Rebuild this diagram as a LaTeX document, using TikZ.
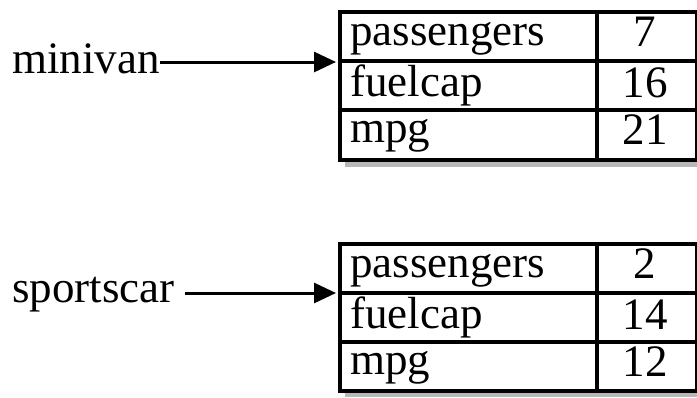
\documentclass[tikz,border=0pt]{standalone}
\usepackage{fontspec}
\setmainfont{Liberation Serif}
\usetikzlibrary{arrows.meta}
\begin{document}
\begin{tikzpicture}[x=1pt,y=-1pt,
  lbl/.style={font=\fontsize{45}{48}\selectfont, inner sep=0pt},
  cell/.style={draw=black, line width=4pt, inner sep=0pt, anchor=north west},
  shadowbox/.style={fill=black!28, draw=none},
  ptr/.style={line width=3pt, -{Triangle[length=22pt,width=20pt]}}]
\useasboundingbox (0,0) rectangle (697,397);
% ---------- top object ----------
\fill[shadowbox] (345,158) rectangle (697,167);
\node[cell, minimum width=257pt, minimum height=49pt] (a1) at (338,10) {};
\node[cell, minimum width=100pt, minimum height=49pt] (a2) at (595,10) {};
\node[cell, minimum width=257pt, minimum height=49pt] (b1) at (338,59) {};
\node[cell, minimum width=100pt, minimum height=49pt] (b2) at (595,59) {};
\node[cell, minimum width=257pt, minimum height=50pt] (c1) at (338,108) {};
\node[cell, minimum width=100pt, minimum height=50pt] (c2) at (595,108) {};
\node[lbl, anchor=base west] (ta1) at (350,45) {passengers};
\node[lbl, anchor=base] (ta2) at (645,46) {7};
\node[lbl, anchor=base west] (tb1) at (350,96) {fuelcap};
\node[lbl, anchor=base] (tb2) at (645,97) {16};
\node[lbl, anchor=base west] (tc1) at (350,142) {mpg};
\node[lbl, anchor=base] (tc2) at (645,144) {21};
\node[lbl, anchor=base west] (mv) at (12,73) {minivan};
\coordinate (mvend) at (336,62);
\draw[ptr] (mv.east |- mvend) -- (mvend);
% ---------- bottom object ----------
\fill[shadowbox] (345,389) rectangle (697,397);
\node[cell, minimum width=257pt, minimum height=49pt] (d1) at (338,242) {};
\node[cell, minimum width=100pt, minimum height=49pt] (d2) at (595,242) {};
\node[cell, minimum width=257pt, minimum height=49pt] (e1) at (338,291) {};
\node[cell, minimum width=100pt, minimum height=49pt] (e2) at (595,291) {};
\node[cell, minimum width=257pt, minimum height=49pt] (f1) at (338,340) {};
\node[cell, minimum width=100pt, minimum height=49pt] (f2) at (595,340) {};
\node[lbl, anchor=base west] (td1) at (350,277) {passengers};
\node[lbl, anchor=base] (td2) at (645,278) {2};
\node[lbl, anchor=base west] (te1) at (350,328) {fuelcap};
\node[lbl, anchor=base] (te2) at (645,329) {14};
\node[lbl, anchor=base west] (tf1) at (350,374) {mpg};
\node[lbl, anchor=base] (tf2) at (645,376) {12};
\node[lbl, anchor=base west] (sc) at (12,302) {sportscar};
\coordinate (scend) at (336,293);
\draw[ptr] ([xshift=10pt]sc.east |- scend) -- (scend);
\end{tikzpicture}
\end{document}
